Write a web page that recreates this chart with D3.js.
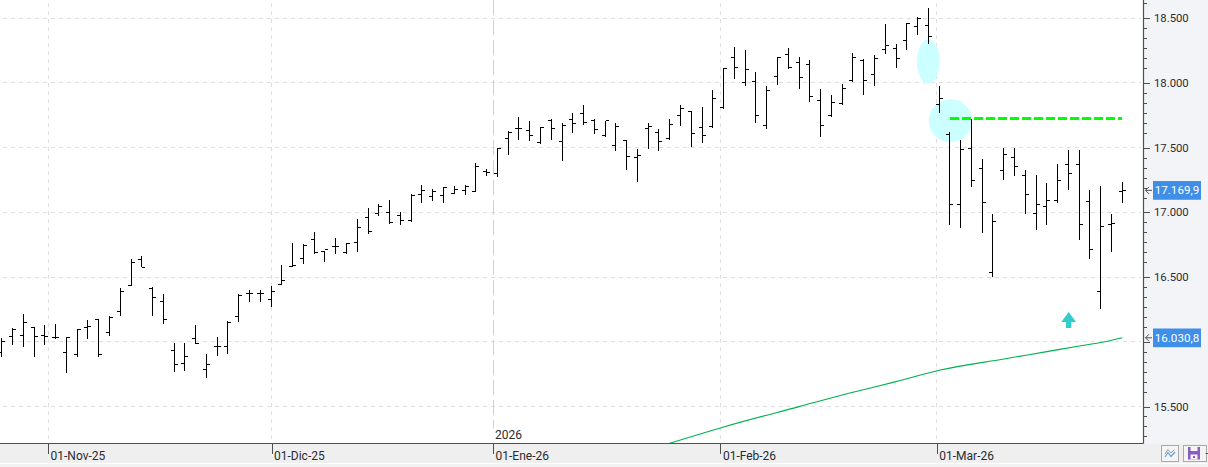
<!DOCTYPE html>
<html><head><meta charset="utf-8">
<style>
html,body{margin:0;padding:0;background:#fff;overflow:hidden}
svg{display:block}
text{font-family:Roboto,"Noto Sans",sans-serif;font-size:11.3px;fill:#2b2b33}
</style>
<script src="https://cdn.jsdelivr.net/npm/d3@7/dist/d3.min.js"></script>
</head><body><svg id="c" width="1208" height="467"></svg>
<script>
const opens=[15920,16043,16051,16108,16051,16036,15920,15904,16113,16172,16074,16237,16438,16639,16412,16314,15935,15834,16028,15788,15966,15966,16198,16376,16376,16330,16446,16585,16644,16791,16696,16737,16688,16768,16960,16991,16999,16976,16935,17138,17122,17130,17145,17168,17163,17315,17300,17569,17646,17631,17536,17708,17546,17715,17762,17708,17597,17515,17554,17423,17646,17615,17567,17746,17777,17654,17667,17808,18198,18005,18012,17672,18051,18221,18159,18144,17865,17747,17840,18020,18175,18067,18260,18268,18330,18438,18446,17831,17600,17062,17492,17338,16539,17323,17423,17285,16992,17046,17092,17369,17369,17085,16392,16908,17162];
const highs=[16028,16103,16214,16113,16128,16136,16036,16098,16167,16175,16198,16415,16639,16663,16423,16368,15992,15992,16128,15904,16036,16157,16366,16399,16399,16428,16593,16763,16752,16845,16703,16798,16765,16945,17030,17068,17099,17004,17145,17215,17184,17197,17207,17215,17384,17338,17500,17631,17738,17708,17662,17723,17692,17769,17831,17723,17708,17692,17554,17492,17692,17646,17723,17831,17777,17815,17946,18115,18276,18252,18082,17974,18198,18268,18198,18175,17950,17904,17989,18229,18183,18214,18454,18299,18461,18508,18577,17977,17623,17556,17723,17415,16985,17500,17500,17331,17292,17223,17377,17485,17485,17169,17200,16985,17231];
const lows=[15886,15979,15963,15886,15979,16020,15762,15881,16025,15881,16041,16203,16438,16577,16203,16141,15770,15778,15981,15723,15894,15909,16149,16304,16304,16265,16436,16583,16603,16680,16618,16680,16680,16696,16834,16973,16911,16904,16929,17073,17089,17073,17145,17135,17161,17284,17274,17444,17562,17551,17531,17562,17397,17613,17674,17605,17582,17474,17328,17236,17490,17474,17562,17667,17505,17536,17654,17800,18033,17979,17692,17646,17987,18105,17956,17855,17579,17739,17832,18010,17909,17979,18227,18118,18257,18374,18304,17767,16905,16882,17197,16844,16500,17251,17282,16990,16867,16905,17074,17174,16790,16636,16251,16690,17074];
const closes=[16002,16092,16152,16043,16043,16036,16036,16098,16121,15904,16188,16392,16616,16577,16345,16175,15827,15889,15989,15827,15966,16147,16361,16371,16376,16392,16477,16593,16747,16688,16716,16737,16760,16883,16852,17043,16919,16937,17132,17168,17161,17189,17176,17199,17354,17307,17492,17615,17646,17592,17654,17646,17669,17685,17692,17638,17708,17662,17431,17438,17662,17546,17677,17800,17608,17592,17877,18115,18121,18105,17749,17943,18198,18121,18043,17896,17672,17850,17958,18198,18020,18190,18291,18190,18461,18500,18361,17877,17062,17485,17246,17077,16931,17446,17354,17138,17062,17092,17246,17300,16908,16715,16892,16915,17170];
const maIndex=[62,67,74,79,83,87,93,97,100,102,104];
const maValues=[15216,15342,15499,15610,15692,15780,15867,15924,15967,15994,16031];
const priceTicks=[15500,16000,16500,17000,17500,18000,18500];
const priceLabels=["15.500","","16.500","17.000","17.500","18.000","18.500"];
const dateIndex=[4.3,25.04,45.6,66.7,86.78];
const dateLabels=["01-Nov-25","01-Dic-25","01-Ene-26","01-Feb-26","01-Mar-26"];
const yearLabel="2026";
const levelValue=17725, levelFrom=88, levelTo=104;
const lastPrice={value:17169.9,label:"17.169,9"};
const lastMA={value:16030.8,label:"16.030,8"};

const W=1208,H=467,axisX=1143.5,axisY=443.5;
const svg=d3.select("#c");
const x=d3.scaleLinear().domain([0,104]).range([1.7,1122.3]);
const y=d3.scaleLinear().domain([15500,18500]).range([406.5,18.2]);
const px=v=>Math.floor(v)+0.5;

// panels
svg.append("rect").attr("x",axisX).attr("y",0).attr("width",W-axisX).attr("height",axisY).attr("fill","#f3f4f8");
svg.append("rect").attr("x",0).attr("y",axisY).attr("width",W).attr("height",19.5).attr("fill","#efefef");
svg.append("rect").attr("x",0).attr("y",464).attr("width",W).attr("height",3).attr("fill","#f2f2f2");

// grid
const grid=svg.append("g").attr("shape-rendering","crispEdges").attr("fill","none");
grid.selectAll("line.h").data(priceTicks).join("line").attr("x1",3).attr("x2",1141)
  .attr("y1",d=>px(y(d))).attr("y2",d=>px(y(d))).attr("stroke","#dedede").attr("stroke-dasharray","4 4");
grid.selectAll("line.v").data(dateIndex).join("line")
  .attr("x1",d=>px(x(d))).attr("x2",d=>px(x(d))).attr("y1",(d,i)=>i==2?0:3).attr("y2",(d,i)=>i==2?428:axisY)
  .attr("stroke",(d,i)=>i==2?"#d0d0d0":"#dedede")
  .attr("stroke-width",(d,i)=>i==2?1.6:1)
  .attr("stroke-dasharray",(d,i)=>i==2?"15 5":"4 4");

// annotations under bars
const anno=svg.append("g").attr("fill","#ccffff");
anno.append("ellipse").attr("cx",x(86)).attr("cy",y(18165)).attr("rx",11.3).attr("ry",22.3);
anno.append("ellipse").attr("cx",x(88)+0.5).attr("cy",y(17708)).attr("rx",21.7).attr("ry",21.5);

// bars
const bars=svg.append("g").attr("shape-rendering","crispEdges").attr("stroke","#000").attr("stroke-width",1);
const idx=d3.range(opens.length);
bars.selectAll("line.r").data(idx).join("line").attr("x1",i=>px(x(i))).attr("x2",i=>px(x(i)))
  .attr("y1",i=>y(highs[i])).attr("y2",i=>y(lows[i]));
bars.selectAll("line.o").data(idx).join("line").attr("x1",i=>px(x(i))-3.5).attr("x2",i=>px(x(i)))
  .attr("y1",i=>px(y(opens[i]))).attr("y2",i=>px(y(opens[i])));
bars.selectAll("line.c").data(idx).join("line").attr("x1",i=>px(x(i))).attr("x2",i=>px(x(i))+3.5)
  .attr("y1",i=>px(y(closes[i]))).attr("y2",i=>px(y(closes[i])));

// moving average
svg.append("path").datum(d3.zip(maIndex,maValues))
  .attr("d",d3.line().curve(d3.curveMonotoneX).x(d=>x(d[0])).y(d=>Math.min(y(d[1]),axisY)))
  .attr("fill","none").attr("stroke","#00b050").attr("stroke-width",1.1);

// level
svg.append("line").attr("x1",x(levelFrom)).attr("x2",x(levelTo)).attr("y1",y(levelValue)).attr("y2",y(levelValue))
  .attr("stroke","#00ff00").attr("stroke-width",2.4).attr("stroke-dasharray","9 3").attr("shape-rendering","crispEdges");

// arrow
svg.append("path").attr("fill","#33cccc")
  .attr("d","M1068.7,312 L1076,322 L1071.3,322 L1071.3,328 L1066,328 L1066,322 L1061.3,322 Z");

// y axis with minor ticks
const minorVals=[];
[15500,16000,16500,17000,17500,18000,18500,19000].forEach(m=>{for(let k=1;k<=5;k++){const v=m-77.2*k; if(y(v)>0&&y(v)<axisY) minorVals.push(v);}});
const yMinor=d3.axisRight(y).tickValues(minorVals).tickSize(3.5).tickFormat("").tickSizeOuter(0);
const gMinor=svg.append("g").attr("transform",`translate(${axisX},0)`).call(yMinor);
gMinor.select(".domain").remove();
const yAxis=d3.axisRight(y).tickValues(priceTicks).tickSize(6).tickPadding(5).tickSizeOuter(0)
  .tickFormat((d,i)=>priceLabels[i]);
const gY=svg.append("g").attr("transform",`translate(${axisX},0)`).call(yAxis);
gY.select(".domain").remove();
svg.selectAll("g .tick line").attr("stroke","#505050").attr("stroke-width",1).attr("shape-rendering","crispEdges");
gY.selectAll("text").attr("fill","#2b2b33").style("font-family","Roboto").style("font-size","11.3px").attr("x",10.5);
svg.append("line").attr("x1",axisX).attr("x2",axisX).attr("y1",0).attr("y2",axisY).attr("stroke","#505050").attr("stroke-width",1.2);

// x axis
const xAxis=d3.axisBottom(x).tickValues(dateIndex).tickSize(10).tickSizeOuter(0).tickFormat((d,i)=>dateLabels[i]);
const gX=svg.append("g").attr("transform",`translate(0,${axisY})`).call(xAxis);
gX.select(".domain").remove();
gX.selectAll(".tick line").attr("stroke","#505050").attr("shape-rendering","crispEdges");
gX.selectAll("text").attr("text-anchor","start").attr("x",2).attr("y",7.5).attr("dy","0.71em").style("font-family","Roboto").style("font-size","12px").attr("fill","#2b2b33");
svg.append("line").attr("x1",0).attr("x2",axisX).attr("y1",axisY).attr("y2",axisY).attr("stroke","#505050").attr("stroke-width",1.2);
svg.append("text").attr("x",x(dateIndex[2])+2).attr("y",439).style("font-size","12px").text(yearLabel);

// last-value tags
[lastPrice,lastMA].forEach(t=>{
  const yy=y(t.value);
  svg.append("rect").attr("x",1153).attr("y",yy-9.3).attr("width",48).attr("height",18.7).attr("fill","#3f8ee8");
  svg.append("text").attr("x",1177).attr("y",yy+4).attr("text-anchor","middle").style("fill","#fff").style("font-size","11.6px").text(t.label);
  svg.append("path").attr("fill","none").attr("stroke","#505050").attr("stroke-width",1)
    .attr("d",`M1152,${yy} L1145.5,${yy} M1149,${yy-3.5} L1145.5,${yy} L1149,${yy+3.5}`);
});

// toolbar buttons
const tb=svg.append("g");
tb.append("rect").attr("x",1161.5).attr("y",445.5).attr("width",17).attr("height",16).attr("fill","#f4f4f4").attr("stroke","#aaa").attr("stroke-width",1);
tb.append("path").attr("d","M1165,454 L1168,449.5 L1171,453 L1174.5,449.5").attr("fill","none").attr("stroke","#9a9aa8").attr("stroke-width",1);
tb.append("path").attr("d","M1165,457 L1168,452.5 L1171,456.5 L1175,452").attr("fill","none").attr("stroke","#5aa5de").attr("stroke-width",1.2);
tb.append("rect").attr("x",1183.5).attr("y",445.5).attr("width",23).attr("height",16).attr("fill","#f4f4f4").attr("stroke","#aaa").attr("stroke-width",1);
tb.append("rect").attr("x",1188).attr("y",447).attr("width",12).attr("height",12.5).attr("fill","#8a5cc0");
tb.append("rect").attr("x",1190.5).attr("y",447).attr("width",7).attr("height",4).attr("fill","#f4f4f4");
tb.append("rect").attr("x",1190.5).attr("y",454.5).attr("width",7).attr("height",5).attr("fill","#f4f4f4");
tb.append("rect").attr("x",1193).attr("y",456).attr("width",2).attr("height",2).attr("fill","#8a5cc0");
tb.append("rect").attr("x",1205.5).attr("y",453).attr("width",2.5).attr("height",1).attr("fill","#555");
</script></body></html>
